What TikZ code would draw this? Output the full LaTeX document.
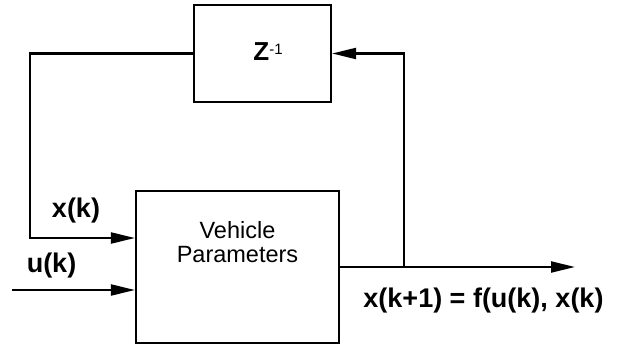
\documentclass[tikz,border=0pt]{standalone}
\usepackage{fontspec}
\setmainfont{Liberation Sans}
\usetikzlibrary{arrows.meta,positioning,calc}

\begin{document}
\begin{tikzpicture}[x=1pt,y=-1pt,
  blk/.style={draw,line width=2.2pt,inner sep=0pt},
  sig/.style={line width=2.2pt},
  sigarr/.style={sig,-{Triangle[length=24pt,width=11pt]}},
  lbl/.style={font=\fontsize{27}{30}\selectfont\bfseries,inner sep=0pt,anchor=base}]
  \useasboundingbox (0,0) rectangle (622,345);

  % blocks
  \node[blk,minimum width=137pt,minimum height=97pt] (delay) at (262.5,53.5) {};
  \node[font=\fontsize{26}{28}\selectfont\bfseries,inner sep=0pt,anchor=base]
    (zinv) at (268,61) {Z\raisebox{6pt}{\fontsize{15}{15}\selectfont\mdseries -1}};
  \node[blk,minimum width=203pt,minimum height=152pt] (plant) at (237.5,267) {};
  \node[font=\fontsize{23.5}{24.5}\selectfont,align=center,inner sep=0pt]
    (plantlbl) at (237.5,242) {Vehicle\\Parameters};

  % signals
  \coordinate (xin) at ($(plant.west)+(0,-29)$);
  \coordinate (uin) at ($(plant.west)+(0,23)$);
  \coordinate (ustart) at (12,0 |- uin);
  \coordinate (out) at (575,0 |- plant.east);
  \coordinate (split) at (404,0 |- plant.east);

  \draw[sigarr] (plant.east) -- (out);
  \draw[sigarr] (split) |- (delay.east);
  \draw[sigarr] (delay.west) -- (30,0 |- delay.west) |- (xin);
  \draw[sigarr] (ustart) -- (uin);

  % labels
  \node[lbl] (xlbl) at (76,217) {x(k)};
  \node[lbl] (ulbl) at (51.5,272) {u(k)};
  \node[lbl] (outlbl) at (483.5,307) {x(k+1) = f(u(k), x(k)};
\end{tikzpicture}
\end{document}
